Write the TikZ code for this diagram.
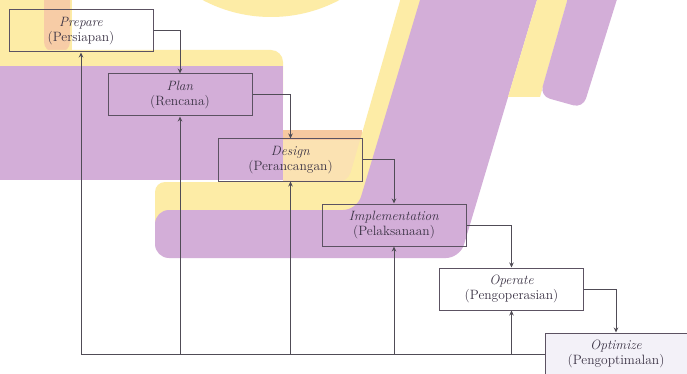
\documentclass[tikz,border=0pt]{standalone}
\usetikzlibrary{arrows.meta}
\tikzset{every picture/.style={line width=1pt}}

\begin{document}
\begin{tikzpicture}[x=1pt,y=1pt,yscale=-1,xscale=1,
  stage/.style={draw={rgb, 255:red, 92; green, 82; blue, 98 }, minimum width=144, minimum height=42, inner sep=0pt, align=center, text={rgb, 255:red, 58; green, 50; blue, 68 }, font=\fontsize{13.5}{15}\selectfont},
  flow/.style={draw={rgb, 255:red, 80; green, 76; blue, 86 }, -{Stealth[length=5pt,width=4.5pt]}}]
%page 687 x 374
\clip (0,0) rectangle (687,374);
\fill [white] (0,0) rectangle (687,374);

%Shape: Circle, top
\fill [fill={rgb, 255:red, 253; green, 236; blue, 166 }] (271,-129) circle [radius=146];
%Shape: top left patch
\fill [fill={rgb, 255:red, 253; green, 236; blue, 166 }] (-10,-10) rectangle (72,60);
\fill [fill={rgb, 255:red, 247; green, 204; blue, 166 }, rounded corners=10] (44,-20) rectangle (70,52);
%Shape: left band
\fill [fill={rgb, 255:red, 253; green, 236; blue, 166 }, rounded corners=12] (-20,50) -- (283,50) -- (283,110) -- (-20,110) -- cycle;
\fill [fill={rgb, 255:red, 211; green, 174; blue, 216 }] (-10,66) rectangle (283,180);
\fill [fill={rgb, 255:red, 247; green, 200; blue, 160 }] (283,130) rectangle (362,140);
\fill [fill={rgb, 255:red, 251; green, 226; blue, 178 }] (283,140) rectangle (360,182);
%Shape: lower band and slope
\fill [fill={rgb, 255:red, 253; green, 236; blue, 166 }, rounded corners=10] (155,182) -- (348,182) -- (406,-20) -- (436,-20) -- (360,230) -- (155,230) -- cycle;
\fill [fill={rgb, 255:red, 211; green, 174; blue, 216 }, rounded corners=14] (155,210) -- (357,210) -- (426,-20) -- (543,-20) -- (460,258) -- (155,258) -- cycle;
%Shape: right band
\fill [fill={rgb, 255:red, 253; green, 236; blue, 166 }] (543,-20) -- (573,-20) -- (540,97) -- (508,97) -- cycle;
\fill [fill={rgb, 255:red, 211; green, 174; blue, 216 }, rounded corners=10] (573,-20) -- (623,-20) -- (583,108) -- (540,96) -- cycle;

% Stage Nodes
\node [stage] (prep) at (81,31) {\textit{Prepare}\\(Persiapan)};
\node [stage] (plan) at (180,95) {\textit{Plan}\\(Rencana)};
\node [stage] (design) at (290.5,160) {\textit{Design}\\(Perancangan)};
\node [stage] (impl) at (394,225) {\textit{Implementation}\\(Pelaksanaan)};
\node [stage] (oper) at (511.5,289) {\textit{Operate}\\(Pengoperasian)};
\node [stage, minimum width=142, fill={rgb, 255:red, 243; green, 241; blue, 248 }] (optim) at (616,354) {\textit{Optimize}\\(Pengoptimalan)};

% Forward Flow
\draw [flow] (prep.east) -| (plan.north);
\draw [flow] (plan.east) -| (design.north);
\draw [flow] (design.east) -| (impl.north);
\draw [flow] (impl.east) -| (oper.north);
\draw [flow] (oper.east) -| (optim.north);

% Feedback Flow
\draw [flow] (optim.west) -| (prep.south);
\draw [flow] (plan.south |- optim.west) -- (plan.south);
\draw [flow] (design.south |- optim.west) -- (design.south);
\draw [flow] (impl.south |- optim.west) -- (impl.south);
\draw [flow] (oper.south |- optim.west) -- (oper.south);

\end{tikzpicture}
\end{document}
